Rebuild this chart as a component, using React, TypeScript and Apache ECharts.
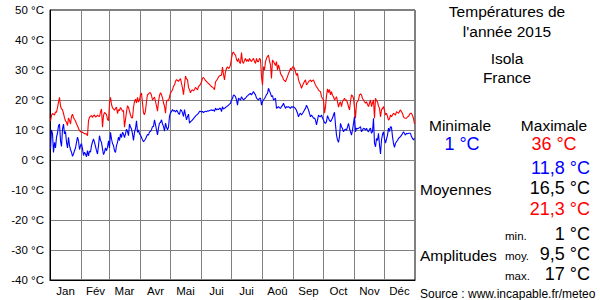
import React, { useEffect, useRef } from "react";
import * as echarts from "echarts";

const monthNames = ["Jan", "Fév", "Mar", "Avr", "Mai", "Jui", "Jui", "Aoû", "Sep", "Oct", "Nov", "Déc"];
const monthLengths = [31, 28, 31, 30, 31, 30, 31, 31, 30, 31, 30, 31];
const yTicks = { min: -40, max: 50, step: 10 };

// Daily maximum temperatures, 2015 (°C)
const tmax = [
  // Jan
  13, 14.8, 15.5, 15.3, 15, 16, 15.9, 17.5, 19.2, 20.9, 18, 17, 16.8, 15.5, 14.1, 13, 12.6, 11.5, 14, 13.2, 12, 14.5, 15.3, 14.2, 13.5, 13, 12, 11.4, 10.5, 9.8, 9.5,
  // Feb
  9.2, 9.3, 9, 8.8, 8.7, 8.7, 8.1, 13.1, 14.2, 14.6, 14.8, 14.2, 14.8, 15, 14.3, 14.5, 15, 14.6, 14.5, 16, 17, 10.9, 14.8, 15.9, 15.5, 15.2, 13.5, 13.1,
  // Mar
  19, 20.9, 18.5, 17.4, 17, 16.6, 17.2, 17.6, 15.5, 16.8, 16.5, 17.5, 17, 16.2, 16.5, 10.9, 13.5, 16, 18.1, 17.5, 16.3, 15, 14.1, 14, 17.5, 19.5, 20.3, 19, 20.9, 19.3, 20,
  // Apr
  21.8, 22.3, 19, 15.7, 15.1, 16.5, 19.5, 21.8, 22, 22.4, 22.4, 21.5, 20, 20.5, 21, 19.5, 18, 16.3, 19.5, 21.5, 22.4, 21.8, 20.7, 19, 18, 15.6, 19.5, 20, 19.7, 21,
  // May
  22.4, 22.8, 23.4, 24.6, 25, 26.2, 26.8, 26.5, 26.2, 26.7, 27.1, 25.5, 24, 21.8, 25, 28, 27, 26.8, 24.2, 23.4, 22.4, 23.2, 23.4, 23, 23.5, 24.2, 23.8, 23.4, 24.5, 24.8, 25.3,
  // Jun
  26, 27.3, 27.5, 27, 26.5, 26.2, 25.8, 25.5, 25.2, 24.8, 24.5, 24.2, 24, 23.4, 26, 26.5, 27, 27.7, 28, 28.2, 28.3, 31, 28.5, 26.7, 29.4, 30.5, 31.1, 30.5, 30.8, 31.7,
  // Jul
  33.9, 35.6, 36, 35.2, 35, 33.5, 32.8, 33.9, 32.5, 32.2, 35.8, 32.8, 32.2, 33.2, 33.9, 32.8, 33.5, 32.8, 33.9, 33.2, 32.8, 33.4, 33.9, 32.8, 32.2, 33.9, 32.8, 32.8, 33.9, 33.5, 27.7,
  // Aug
  25, 31.1, 30, 32.8, 33.9, 34.5, 35, 33, 31.7, 27.2, 33.3, 32.8, 32.2, 31.5, 32.8, 30, 31.7, 30.5, 28.9, 28.2, 27.8, 26.7, 26.5, 26.1, 27, 27.8, 28.9, 29.5, 30.6, 30, 31,
  // Sep
  31.1, 30.5, 29.4, 28.2, 28.9, 26.7, 25.8, 25, 23.9, 24.8, 25.6, 26.2, 26.7, 25, 25.5, 26.1, 26.4, 26.7, 26.1, 26.5, 26.7, 25.8, 25, 24.4, 24, 23.3, 23, 22.8, 21.1, 20.5,
  // Oct
  20, 15.6, 17.8, 21.4, 23.7, 22.5, 23.5, 21.7, 22.8, 21.5, 21.1, 20, 20.5, 21.1, 19.5, 17.6, 18.9, 19.4, 17.8, 19.5, 20, 20.6, 19.8, 20, 19, 17.8, 16.7, 19.5, 21.7, 21.4, 20.6,
  // Nov
  17.5, 13.9, 18.9, 19.5, 20, 21.7, 22, 21.7, 20.5, 20, 19.4, 18.9, 19.4, 18.5, 17.8, 19, 20, 17.8, 19, 20, 13.9, 20.6, 19.8, 19.4, 18, 17.2, 14.4, 16.7, 17.2, 17.8,
  // Dec
  16.5, 15, 15.6, 14.5, 13.3, 13.7, 15, 14.4, 15, 15.6, 15.3, 15, 16.1, 15.8, 15.6, 16.2, 16.7, 16.1, 15.5, 14.4, 14, 13.9, 13.9, 14.4, 14.5, 15.2, 15.6, 15.6, 14.8, 13.9, 12,
];

// Daily minimum temperatures, 2015 (°C)
const tmin = [
  // Jan
  3.7, 10, 8.7, 2.5, 5.9, 4, 7.6, 9, 11.4, 12, 6.4, 4.5, 10.3, 12, 8.7, 9.5, 5.9, 4, 7.6, 4.8, 3.5, 2.6, 1.2, 2, 3.1, 4, 5.9, 7.6, 6.4, 3.5, 4.8,
  // Feb
  5.5, 3.7, 1.5, 2.6, 2, 1.1, 3.1, 1.4, 3, 2.6, 4.8, 6, 7, 5.9, 4.5, 3.1, 2, 4.8, 8.1, 6.5, 5.9, 3.7, 1.8, 2.6, 4, 3.1, 4.2, 6.4,
  // Mar
  4, 9.2, 7, 5.5, 4.8, 3.1, 2.5, 4.8, 5.9, 7.6, 6.5, 8.7, 7.5, 9.2, 8.7, 7.5, 8.7, 10.3, 9.5, 8.1, 12, 11, 10.3, 8.7, 6.5, 9.2, 10.5, 13.1, 9.2, 10, 8.7,
  // Apr
  8.3, 7.5, 6.7, 6.1, 6.5, 7, 7.8, 8.5, 8.3, 9.4, 9.5, 10.1, 11.1, 11.2, 13.4, 11.8, 10, 8.4, 10.7, 12.3, 12.5, 13.4, 12, 11.2, 9.6, 12.3, 11, 10.1, 10.9, 14.6,
  // May
  15.7, 16.2, 16.8, 16.3, 16.5, 16, 16.6, 16.2, 15.5, 15.2, 16.8, 16.5, 15.7, 14.5, 16.8, 15, 13.4, 14.5, 15.3, 12.3, 12.8, 13, 13.4, 13.8, 14.2, 14.6, 15, 15.2, 15.6, 16.2, 16.2,
  // Jun
  16, 16.2, 15.8, 16.1, 16.3, 16.1, 16.4, 16.3, 16.5, 16.6, 16.7, 16.5, 16.7, 16.2, 17.3, 16.7, 17, 16.8, 17.2, 17.2, 16.1, 17.8, 17, 17.2, 17.5, 17.8, 18, 18.3, 18.6, 18.9,
  // Jul
  20, 20.5, 21.7, 21.5, 21.1, 20, 18.3, 20.6, 20.3, 20, 21.1, 20.5, 20, 20.4, 20.6, 21.1, 21.4, 21.7, 22, 22.2, 21.7, 22.3, 22.8, 22.2, 21.7, 20.6, 20.3, 20, 20.6, 20.6, 18.3,
  // Aug
  19.5, 20, 20.5, 21.1, 21.8, 22.2, 23.9, 23, 22.2, 21.1, 21.5, 20, 20.3, 20.6, 17.2, 17.5, 17.8, 17.4, 17.2, 17.8, 18.2, 18.9, 18, 17.2, 17.8, 17.6, 17.8, 17.5, 17.2, 17.8, 17.6,
  // Sep
  17.8, 17.4, 17.2, 16.5, 15.6, 14.4, 15.2, 15.6, 15, 15.5, 16.1, 16.7, 17.2, 18.3, 17.5, 16.7, 15.5, 14.4, 15, 14.5, 13.9, 14, 13.3, 11.7, 13.3, 15, 14.5, 14.4, 15, 14,
  // Oct
  13.3, 12.5, 12.2, 12.8, 14.8, 13.9, 13.2, 12.8, 13.3, 14, 15, 15.9, 11.7, 8.3, 6.7, 5.9, 7.8, 12.2, 11.1, 10.5, 9.4, 10, 10.3, 10, 11, 12.2, 10.5, 9.4, 8.3, 10, 12.2,
  // Nov
  14.5, 9.4, 10.6, 10.4, 10.6, 10.8, 11.1, 9.4, 10, 10.6, 10.4, 10, 10.6, 9.8, 9.4, 10.2, 10.6, 8.9, 9.5, 13.9, 5.6, 4.4, 7.2, 6.5, 8.9, 5, 2, 6.7, 8.5, 9.4,
  // Dec
  7, 5.6, 7, 8.3, 10.6, 9.5, 11.1, 10.9, 7.8, 5.5, 4.2, 5.6, 6.1, 6.5, 7.2, 7.5, 7.8, 8.3, 8.8, 9.4, 8.8, 8.3, 8.9, 8.7, 8.9, 8.9, 8.9, 7.8, 7.2, 6.7, 7.2,
];

const titleLines = ["Températures de", "l'année 2015"];
const placeLines = ["Isola", "France"];
const extremes = { min: "1 °C", max: "36 °C" };
const averages = { min: "11,8 °C", mean: "16,5 °C", max: "21,3 °C" };
const amplitudes = { min: "1 °C", mean: "9,5 °C", max: "17 °C" };
const sourceText = "Source : www.incapable.fr/meteo";

const FONT = "'Liberation Sans', Arial, Helvetica, sans-serif";

export default function App() {
  const ref = useRef<HTMLDivElement>(null);

  useEffect(() => {
    document.body.style.margin = "0";
    if (!ref.current) return;
    const chart = echarts.init(ref.current, null, { renderer: "svg" });

    const days = tmax.map((_, i) => String(i));
    const monthStarts = new Set<number>();
    const midLabels: Record<number, string> = {};
    let acc = 0;
    monthLengths.forEach((len, m) => {
      monthStarts.add(acc);
      midLabels[acc + Math.floor(len / 2)] = monthNames[m];
      acc += len;
    });

    const txt = (text: string, x: number, y: number, opts: any = {}) => ({
      type: "text",
      x,
      y,
      silent: true,
      style: {
        text,
        fill: opts.fill || "#000",
        font: `${opts.size || 15.5}px ${FONT}`,
        textAlign: opts.align || "center",
        textVerticalAlign: "middle",
      },
    });

    const option: any = {
      animation: false,
      grid: {
        left: 50,
        right: 185,
        top: 10,
        bottom: 20,
        show: true,
        borderColor: "#000",
        borderWidth: 1,
        backgroundColor: "transparent",
      },
      xAxis: {
        type: "category",
        data: days,
        boundaryGap: true,
        axisLine: { show: true, onZero: false, lineStyle: { color: "#000", width: 1 } },
        axisTick: { show: false },
        splitLine: {
          show: true,
          interval: (i: number) => monthStarts.has(i) && i !== 0,
          lineStyle: { color: "#808080", width: 1 },
        },
        axisLabel: {
          interval: (i: number) => midLabels[i] !== undefined,
          formatter: (v: string) => midLabels[Number(v)] || "",
          color: "#000",
          fontSize: 11.5,
          fontFamily: FONT,
          margin: 5,
        },
      },
      yAxis: {
        type: "value",
        min: yTicks.min,
        max: yTicks.max,
        interval: yTicks.step,
        axisLine: { show: true, lineStyle: { color: "#000", width: 1 } },
        axisTick: { show: false },
        splitLine: { show: true, lineStyle: { color: "#808080", width: 1 } },
        axisLabel: {
          formatter: (v: number) => `${v} °C`,
          color: "#000",
          fontSize: 11.5,
          fontFamily: FONT,
          margin: 6,
        },
      },
      series: [
        {
          name: "min",
          type: "line",
          data: tmin,
          showSymbol: false,
          symbol: "none",
          lineStyle: { color: "#0000ff", width: 1.1 },
          z: 3,
        },
        {
          name: "max",
          type: "line",
          data: tmax,
          showSymbol: false,
          symbol: "none",
          lineStyle: { color: "#ff0000", width: 1.1 },
          z: 3,
        },
      ],
      graphic: [
        txt(titleLines[0], 507, 11),
        txt(titleLines[1], 507, 31),
        txt(placeLines[0], 507, 58),
        txt(placeLines[1], 507, 77),
        txt("Minimale", 460, 125),
        txt("Maximale", 554, 125),
        txt(extremes.min, 462, 144, { size: 18, fill: "#0000ff" }),
        txt(extremes.max, 554, 144, { size: 18, fill: "#ff0000" }),
        txt(averages.min, 590, 168, { size: 18, fill: "#0000ff", align: "right" }),
        txt("Moyennes", 420, 189, { align: "left" }),
        txt(averages.mean, 590, 188, { size: 18, align: "right" }),
        txt(averages.max, 590, 209, { size: 18, fill: "#ff0000", align: "right" }),
        txt("min.", 505, 236, { size: 11.5, align: "left" }),
        txt(amplitudes.min, 590, 234, { size: 18, align: "right" }),
        txt("Amplitudes", 420, 255, { align: "left" }),
        txt("moy.", 505, 256, { size: 11.5, align: "left" }),
        txt(amplitudes.mean, 590, 254, { size: 18, align: "right" }),
        txt("max.", 505, 276, { size: 11.5, align: "left" }),
        txt(amplitudes.max, 590, 274, { size: 18, align: "right" }),
        txt(sourceText, 420, 294, { size: 12, align: "left" }),
      ],
    };

    chart.setOption(option);
    return () => chart.dispose();
  }, []);

  return <div ref={ref} style={{ width: 600, height: 300 }} />;
}
